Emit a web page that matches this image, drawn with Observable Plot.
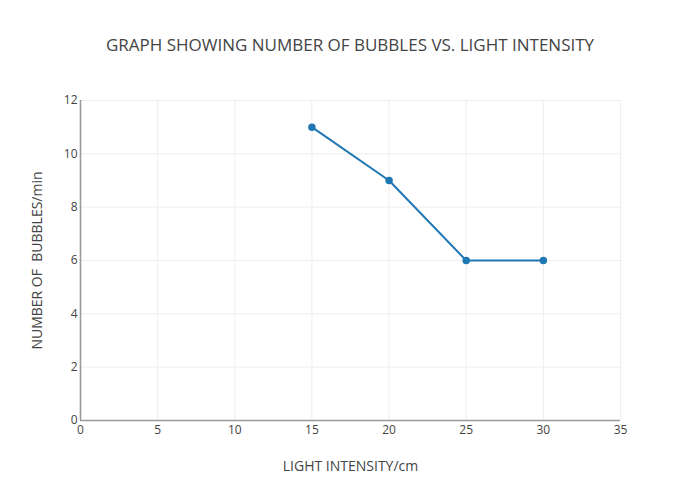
<!DOCTYPE html>
<html>
<head>
<meta charset="utf-8">
<script src="https://cdn.jsdelivr.net/npm/d3@7"></script>
<script src="https://cdn.jsdelivr.net/npm/@observablehq/plot@0.6"></script>
<style>
  html, body { margin: 0; padding: 0; background: #fff; }
  #wrap { position: relative; width: 700px; height: 500px; font-family: "Open Sans", sans-serif; }
  #title { position: absolute; top: 33px; left: 0; width: 700px; text-align: center; font-size: 17px; color: #444; }
</style>
</head>
<body>
<div id="wrap">
  <div id="title">GRAPH SHOWING NUMBER OF BUBBLES VS. LIGHT INTENSITY</div>
</div>
<script>
const lightIntensity = [15, 20, 25, 30];
const bubbles = [11, 9, 6, 6];
const xTicks = [0, 5, 10, 15, 20, 25, 30, 35];
const yTicks = [0, 2, 4, 6, 8, 10, 12];

const data = lightIntensity.map((x, i) => ({x, y: bubbles[i]}));

const chart = Plot.plot({
  width: 700,
  height: 500,
  marginLeft: 80,
  marginRight: 80,
  marginTop: 100,
  marginBottom: 80,
  style: {fontFamily: "Open Sans, sans-serif", fontSize: "12px", color: "#444", background: "transparent"},
  x: {domain: [0, 35], ticks: xTicks, tickSize: 0, tickPadding: 5, label: "LIGHT INTENSITY/cm", labelAnchor: "center", labelOffset: 50},
  y: {domain: [0, 12], ticks: yTicks, tickSize: 0, tickPadding: 3, label: "NUMBER OF  BUBBLES/min", labelAnchor: "center", labelOffset: 48},
  marks: [
    Plot.gridX(xTicks, {stroke: "#eee", strokeOpacity: 1, strokeWidth: 1}),
    Plot.gridY(yTicks, {stroke: "#eee", strokeOpacity: 1, strokeWidth: 1}),
    Plot.axisX({ticks: xTicks, tickSize: 0, tickPadding: 5, fontSize: 12, fill: "#444", label: "LIGHT INTENSITY/cm", labelAnchor: "center", labelOffset: 50, labelArrow: "none"}),
    Plot.axisY({ticks: yTicks, tickSize: 0, tickPadding: 3, fontSize: 12, fill: "#444", label: "NUMBER OF  BUBBLES/min", labelAnchor: "center", labelOffset: 48, labelArrow: "none"}),
    Plot.ruleY([0], {stroke: "#999", strokeWidth: 1.6}),
    Plot.ruleX([0], {stroke: "#999", strokeWidth: 1.6}),
    Plot.line(data, {x: "x", y: "y", stroke: "#1f77b4", strokeWidth: 2}),
    Plot.dot(data, {x: "x", y: "y", r: 3, fill: "#1f77b4", stroke: "#1f77b4"})
  ]
});
document.getElementById("wrap").appendChild(chart);
chart.querySelectorAll("g[aria-label='x-axis label'] text, g[aria-label='y-axis label'] text").forEach(t => {
  t.setAttribute("font-size", "14");
  t.style.fontSize = "14px";
});
</script>
</body>
</html>
